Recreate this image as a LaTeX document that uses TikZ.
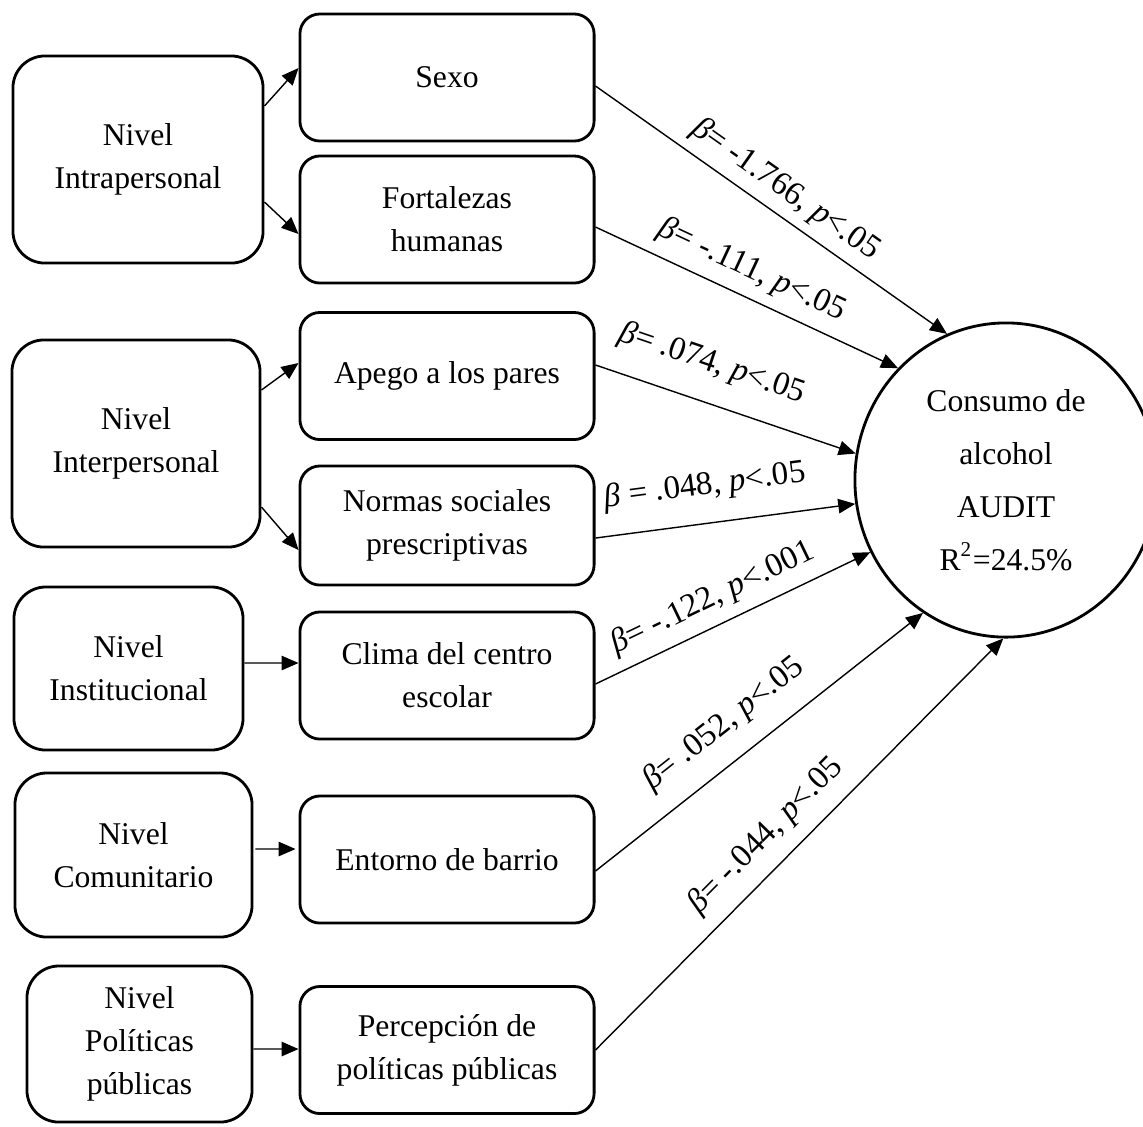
\documentclass[tikz,border=0pt]{standalone}
\usepackage{fontspec}
\setmainfont{Liberation Serif}
\usetikzlibrary{arrows.meta,shapes.geometric}

\begin{document}
\begin{tikzpicture}[x=0.01cm, y=-0.01cm, line width=0.4pt,
  font=\fontsize{9}{12.2}\selectfont,
  nivel/.style={draw, line width=0.8pt, rounded corners=3.2mm, align=center, inner sep=0pt},
  factor/.style={draw, line width=0.8pt, rounded corners=2mm, align=center, inner sep=0pt,
    minimum width=29.4mm, minimum height=12.7mm},
  arr/.style={-{Triangle[length=1.7mm,width=1.45mm]}},
  coef/.style={sloped, inner sep=0pt, font=\fontsize{9.4}{11}\selectfont}]
  \useasboundingbox (0,0) rectangle (1143,1126);
  % levels of the ecological model
  \node[nivel, minimum width=25mm, minimum height=20.7mm] (intra) at (138,159.5) {Nivel\\Intrapersonal};
  \node[nivel, minimum width=24.8mm, minimum height=20.7mm] (inter) at (136,443.5) {Nivel\\Interpersonal};
  \node[nivel, minimum width=22.9mm, minimum height=16.3mm] (inst) at (128.5,668.5) {Nivel\\Institucional};
  \node[nivel, minimum width=23.7mm, minimum height=16.4mm] (comu) at (133.5,855) {Nivel\\Comunitario};
  \node[nivel, minimum width=22.5mm, minimum height=15.6mm] (poli) at (139.5,1044) {Nivel\\Políticas\\públicas};
  % factors
  \node[factor] (sexo) at (447,77.5) {Sexo};
  \node[factor] (fort) at (447,219.5) {Fortalezas\\humanas};
  \node[factor] (apego) at (447,376) {Apego a los pares};
  \node[factor, minimum height=11.9mm] (normas) at (447,525.5) {Normas sociales\\prescriptivas};
  \node[factor] (clima) at (447,675.5) {Clima del centro\\escolar};
  \node[factor] (entorno) at (447,859.5) {Entorno de barrio};
  \node[factor] (percep) at (447,1050) {Percepción de\\políticas públicas};
  % outcome
  \node[draw, ellipse, line width=0.8pt, minimum width=30.2mm, minimum height=31.4mm, inner sep=0pt,
    align=center, font=\fontsize{9}{15.1}\selectfont] (cons) at (1006,480)
    {Consumo de\\alcohol\\AUDIT\\R\textsuperscript{2}=24.5\%};
  % level -> factor
  \draw[arr] ([yshift=5.35mm]intra.east) -- ([yshift=0.95mm]sexo.west);
  \draw[arr] ([yshift=-4.25mm]intra.east) -- ([yshift=-1.45mm]fort.west);
  \draw[arr] ([yshift=5.35mm]inter.east) -- ([yshift=1.3mm]apego.west);
  \draw[arr] ([yshift=-6.35mm]inter.east) -- ([yshift=-2.45mm]normas.west);
  \draw[arr] ([yshift=0.55mm]inst.east) -- ([yshift=1.25mm]clima.west);
  \draw[arr] ([xshift=0.2mm,yshift=0.6mm]comu.east) -- ([xshift=-0.3mm,yshift=1.05mm]entorno.west);
  \draw[arr] ([yshift=-0.5mm]poli.east) -- ([yshift=0.1mm]percep.west);
  % factor -> outcome, with coefficients
  \foreach \f/\ang/\dy/\p/\dd/\lbl in {
      sexo/112/-0.85/0.50/0.9/{\textit{β}= -1.766, \textit{p}<.05},
      fort/134/-0.75/0.48/1.1/{\textit{β}= -.111, \textit{p}<.05},
      apego/170/1.1/0.40/2.3/{\textit{β}= .074, \textit{p}<.05},
      normas/189/-1.25/0.44/2.1/{\textit{β} = .048, \textit{p}<.05},
      clima/208/-0.85/0.47/1.1/{\textit{β}= -.122, \textit{p}<.001},
      entorno/238/-1.15/0.46/2.0/{\textit{β}= .052, \textit{p}<.05},
      percep/269/0/0.47/1.4/{\textit{β}= -.044, \textit{p}<.05}}{
    \draw[arr] ([yshift=\dy mm]\f.east) -- (cons.\ang)
      node[coef, pos=\p, above=\dd mm] {\lbl};
  }
\end{tikzpicture}
\end{document}
